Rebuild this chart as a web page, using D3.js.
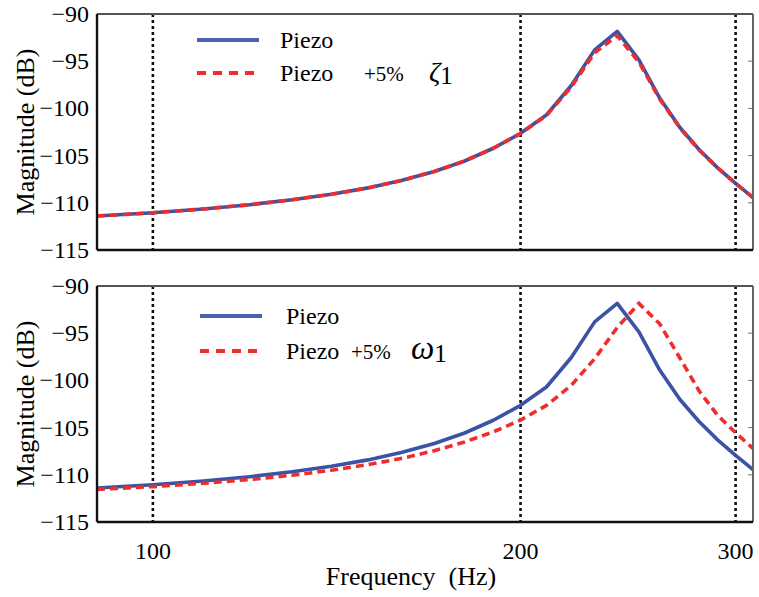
<!DOCTYPE html>
<html><head><meta charset="utf-8"><script src="https://cdn.jsdelivr.net/npm/d3@7"></script></head>
<body style="margin:0">
<svg id="chart" width="759" height="597"></svg>
<script>
// frequency grid (Hz)
const freq = [90, 100, 110, 120, 130, 140, 150, 160, 170, 180, 190, 200,
              210, 220, 230, 240, 250, 260, 270, 280, 290, 300, 310];

// magnitude (dB)
const piezo = [-111.4, -111.05, -110.65, -110.2, -109.68, -109.1, -108.42, -107.62,
               -106.68, -105.57, -104.22, -102.64, -100.7, -97.6, -93.8, -91.85,
               -94.85, -98.9, -102.0, -104.35, -106.3, -107.95, -109.45];
const piezoZeta = [-111.4, -111.05, -110.65, -110.2, -109.68, -109.1, -108.42, -107.62,
                   -106.68, -105.57, -104.22, -102.66, -100.75, -97.75, -94.1, -92.3,
                   -95.1, -99.0, -102.05, -104.4, -106.3, -107.95, -109.45];
const piezoOmega = [-111.55, -111.25, -110.9, -110.5, -110.05, -109.52, -108.92, -108.25,
                    -107.45, -106.52, -105.45, -104.2, -102.65, -100.55, -97.7, -94.4,
                    -91.85, -94.0, -97.6, -101.1, -103.7, -105.55, -107.2];

const yTicks = [-90, -95, -100, -105, -110, -115];
const xTicks = [100, 200, 300];
const vLines = [100, 200, 300];

const svg = d3.select("#chart");
const blue = "#3a53a4", red = "#ee2e2e";

const x = d3.scaleLog().domain([90, 310]).range([97, 753]);

// text in the same serif face as the figure
function label(sel, size) {
    return sel.style("font-family", "'Liberation Serif', 'Times New Roman', serif", "important")
        .attr("font-size", size);
}

function drawPanel(top, redSeries, legend) {
    const y = d3.scaleLinear().domain([-115, -90]).range([top + 236, top]);
    const g = svg.append("g");

    // dotted reference lines
    g.selectAll("line.vline")
        .data(vLines)
        .join("line")
        .attr("x1", d => x(d)).attr("x2", d => x(d))
        .attr("y1", top).attr("y2", top + 236)
        .attr("stroke", "#111")
        .attr("stroke-width", 2.6)
        .attr("stroke-dasharray", "3,3");

    // right side ticks (inward)
    g.selectAll("line.rtick")
        .data(yTicks.slice(1, -1))
        .join("line")
        .attr("x1", 748).attr("x2", 753)
        .attr("y1", d => y(d)).attr("y2", d => y(d))
        .attr("stroke", "#777").attr("stroke-width", 1);

    const line = d3.line()
        .x((d, i) => x(freq[i]))
        .y(d => y(d));

    g.append("path")
        .attr("d", line(piezo))
        .attr("fill", "none")
        .attr("stroke", blue)
        .attr("stroke-width", 3.6)
        .attr("stroke-linejoin", "round");

    g.append("path")
        .attr("d", line(redSeries))
        .attr("fill", "none")
        .attr("stroke", red)
        .attr("stroke-width", 3.6)
        .attr("stroke-dasharray", "8,5");

    // frame
    g.append("line").attr("x1", 97).attr("x2", 753).attr("y1", top).attr("y2", top)
        .attr("stroke", "#555").attr("stroke-width", 2);
    g.append("line").attr("x1", 753).attr("x2", 753).attr("y1", top).attr("y2", top + 236)
        .attr("stroke", "#666").attr("stroke-width", 2);
    g.append("line").attr("x1", 97).attr("x2", 753).attr("y1", top + 236).attr("y2", top + 236)
        .attr("stroke", "#111").attr("stroke-width", 2.4);
    g.append("line").attr("x1", 97).attr("x2", 97).attr("y1", top).attr("y2", top + 236)
        .attr("stroke", "#111").attr("stroke-width", 2.4);

    // y tick labels
    label(g.selectAll("text.ytick")
        .data(yTicks)
        .join("text")
        .attr("x", 89)
        .attr("y", d => y(d) + 8)
        .attr("text-anchor", "end"), 24)
        .text(d => "\u2212" + Math.abs(d));

    label(g.append("text")
        .attr("transform", `translate(34,${top + 118}) rotate(-90)`)
        .attr("text-anchor", "middle"), 26)
        .text("Magnitude (dB)");

    // legend
    const lx = legend.x, ly = top;
    g.append("line").attr("x1", lx).attr("x2", lx + 62)
        .attr("y1", ly + legend.dy1).attr("y2", ly + legend.dy1)
        .attr("stroke", "#5060b0").attr("stroke-width", 4);
    g.append("line").attr("x1", lx).attr("x2", lx + 62)
        .attr("y1", ly + legend.dy2).attr("y2", ly + legend.dy2)
        .attr("stroke", red).attr("stroke-width", 4).attr("stroke-dasharray", "9,7");

    label(g.append("text").attr("x", legend.tx).attr("y", ly + legend.dy1 + 8), 24)
        .text("Piezo");
    const t = label(g.append("text").attr("x", legend.tx).attr("y", ly + legend.dy2 + 8), 24);
    t.append("tspan").text("Piezo");
    t.append("tspan").attr("x", legend.px).attr("font-size", 21).text("+5%");
    t.append("tspan").attr("x", legend.sx).attr("font-size", legend.symSize)
        .attr("font-style", "italic").text(legend.sym);
    t.append("tspan").attr("dy", 3).attr("font-size", 25).text("1");
}

drawPanel(14, piezoZeta, {x: 197, tx: 280, px: 364, sx: 429, dy1: 26, dy2: 59, sym: "\u03b6", symSize: 28});
drawPanel(286, piezoOmega, {x: 200, tx: 286, px: 351, sx: 411, dy1: 30, dy2: 65, sym: "\u03c9", symSize: 33});

// x axis labels
label(svg.selectAll("text.xtick")
    .data(xTicks)
    .join("text")
    .attr("x", d => x(d))
    .attr("y", 559)
    .attr("text-anchor", "middle"), 24)
    .text(d => d);

label(svg.append("text")
    .attr("x", 411)
    .attr("y", 585)
    .attr("text-anchor", "middle"), 26)
    .text("Frequency\u00a0 (Hz)");
</script>
</body>
</html>
